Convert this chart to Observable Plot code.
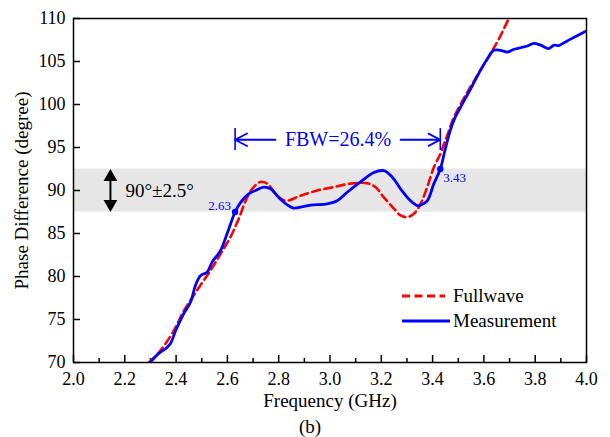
<!DOCTYPE html>
<html>
<head>
<meta charset="utf-8">
<script src="https://cdn.jsdelivr.net/npm/d3@7"></script>
<script src="https://cdn.jsdelivr.net/npm/@observablehq/plot@0.6"></script>
<style>
  html, body { margin: 0; padding: 0; background: #fff; }
  #chart { position: relative; width: 610px; height: 437px; }
  #legend { position: absolute; left: 398px; top: 282px; }
  svg { font-family: "Liberation Serif", "Times New Roman", serif; }
</style>
</head>
<body>
<div id="chart"></div>
<script>
// Measured phase difference (degrees) against frequency (GHz)
const measFreq = [2.300, 2.320, 2.339, 2.359, 2.378, 2.398, 2.415, 2.430, 2.456, 2.476, 2.495, 2.521, 2.541, 2.573, 2.599, 2.630, 2.651, 2.683, 2.710, 2.742, 2.768, 2.794, 2.807, 2.835, 2.859, 2.890, 2.924, 2.989, 3.028, 3.067, 3.119, 3.171, 3.210, 3.243, 3.275, 3.314, 3.340, 3.353, 3.379, 3.405, 3.430, 3.450, 3.469, 3.485, 3.502, 3.548, 3.587, 3.613, 3.639, 3.665, 3.691, 3.715, 3.743, 3.770, 3.795, 3.821, 3.853, 3.873, 3.892, 3.905, 3.938, 3.964, 3.996, 4.000];
const measPhase = [70.0, 70.7, 71.2, 71.6, 72.2, 73.7, 74.8, 75.7, 77.0, 79.0, 80.1, 80.5, 81.7, 83.0, 85.0, 87.5, 88.6, 89.6, 90.0, 90.4, 90.2, 89.4, 89.0, 88.3, 87.95, 88.1, 88.3, 88.45, 88.8, 89.8, 91.0, 92.1, 92.3, 91.55, 90.2, 88.8, 88.25, 88.3, 88.8, 90.8, 92.5, 94.9, 97.0, 98.3, 99.3, 101.8, 104.0, 105.3, 106.3, 106.3, 106.1, 106.4, 106.6, 106.8, 107.1, 106.9, 106.5, 106.9, 106.85, 107.05, 107.6, 108.0, 108.5, 108.55];

// Full-wave simulation
const simFreq = [2.294, 2.339, 2.391, 2.430, 2.482, 2.534, 2.573, 2.612, 2.644, 2.671, 2.697, 2.729, 2.755, 2.794, 2.827, 2.885, 2.950, 3.015, 3.080, 3.145, 3.177, 3.210, 3.249, 3.275, 3.300, 3.327, 3.353, 3.379, 3.405, 3.431, 3.444, 3.457, 3.483, 3.535, 3.587, 3.626, 3.658, 3.697];
const simPhase = [70.0, 71.4, 73.7, 76.0, 78.4, 80.7, 82.6, 84.6, 86.7, 88.8, 90.2, 91.0, 90.8, 89.4, 88.8, 89.4, 90.0, 90.4, 90.8, 90.85, 90.4, 89.2, 87.9, 87.1, 86.9, 87.3, 88.45, 90.4, 92.7, 94.3, 95.4, 96.4, 98.5, 101.4, 104.0, 105.9, 107.6, 110.0];

// Target band 90° ± 2.5° and the band-edge frequencies
const bandCenter = 90;
const bandHalf = 2.5;
const edgeFreq = [2.63, 3.43];
const edgePhase = [87.5, 92.5];

// Axes
const xDomain = [2.0, 4.0];
const yDomain = [70, 110];
const xMajor = d3.range(0, 11).map(i => +(2.0 + i * 0.2).toFixed(1));
const xMinor = d3.range(0, 10).map(i => +(2.1 + i * 0.2).toFixed(1));
const yMajor = d3.range(70, 111, 5);

const measurement = measFreq.map((f, i) => ({f, p: measPhase[i]}));
const fullwave = simFreq.map((f, i) => ({f, p: simPhase[i]}));
const edges = edgeFreq.map((f, i) => ({f, p: edgePhase[i]}));

const fbw = 2 * (edgeFreq[1] - edgeFreq[0]) / (edgeFreq[1] + edgeFreq[0]);
const fbwLabel = `FBW=${(fbw * 100).toFixed(1)}%`;

const BLUE = "#0000ff";
const RED = "#ff0000";

const W = 610, H = 437;
const mL = 73, mR = 24, mT = 18, mB = 75;
const innerW = W - mL - mR, innerH = H - mT - mB;

const arrowX = 2.144;      // position of the ±2.5° double arrow
const fbwY = 95.9;         // height of the FBW dimension line
const fbwBar = [94.65, 97.2];
const fbwGap = [2.7875, 3.275];

const chart = Plot.plot({
  width: W,
  height: H,
  marginLeft: mL,
  marginRight: mR,
  marginTop: mT,
  marginBottom: mB,
  style: {fontFamily: "'Liberation Serif', 'Times New Roman', serif", fontSize: "18px", background: "white", color: "black"},
  x: {domain: xDomain, label: null},
  y: {domain: yDomain, label: null},
  marks: [
    // ±2.5° band
    Plot.rect([{y1: bandCenter - bandHalf, y2: bandCenter + bandHalf}], {x1: xDomain[0], x2: xDomain[1], y1: "y1", y2: "y2", fill: "#e6e6e6"}),

    // tick labels (ticks themselves are drawn inward below)
    Plot.axisX({ticks: xMajor, tickSize: 0, tickPadding: 10, tickFormat: d => d.toFixed(1), fontSize: 18, label: null}),
    Plot.axisY({ticks: yMajor, tickSize: 0, tickPadding: 8, tickFormat: d => String(d), fontSize: 18, label: null}),
    Plot.tickX(xMajor, {x: d => d, insetTop: innerH - 7, stroke: "black", strokeWidth: 1.5}),
    Plot.tickX(xMinor, {x: d => d, insetTop: innerH - 4, stroke: "black", strokeWidth: 1.5}),
    Plot.tickY(yMajor, {y: d => d, insetRight: innerW - 7, stroke: "black", strokeWidth: 1.5}),

    // curves
    Plot.line(fullwave, {x: "f", y: "p", stroke: RED, strokeWidth: 2.6, strokeDasharray: "8,4.5", curve: "catmull-rom", clip: true}),
    Plot.line(measurement, {x: "f", y: "p", stroke: BLUE, strokeWidth: 2.8, curve: "catmull-rom", clip: true}),

    // band-edge markers and their labels
    Plot.dot(edges, {x: "f", y: "p", r: 3.2, fill: BLUE}),
    Plot.text(edges.slice(0, 1), {x: "f", y: "p", text: d => d.f.toFixed(2), textAnchor: "end", lineAnchor: "bottom", dx: -4, dy: -2, fill: BLUE, fontSize: 13}),
    Plot.text(edges.slice(1), {x: "f", y: "p", text: d => d.f.toFixed(2), textAnchor: "start", lineAnchor: "bottom", dx: 3, dy: 13, fill: BLUE, fontSize: 13}),

    // ±2.5° double arrow
    Plot.ruleX([arrowX], {y1: bandCenter - bandHalf + 1, y2: bandCenter + bandHalf - 1, stroke: "black", strokeWidth: 2}),
    Plot.dot([arrowX], {x: d => d, y: bandCenter + bandHalf, symbol: "triangle", r: 5.1, fill: "black", stroke: null, dy: 8}),
    Plot.dot([arrowX], {x: d => d, y: bandCenter - bandHalf, symbol: "triangle", rotate: 180, r: 5.1, fill: "black", stroke: null, dy: -8}),
    Plot.text([`${bandCenter}°±${bandHalf}°`], {x: arrowX, y: bandCenter, dx: 15, textAnchor: "start", lineAnchor: "middle", fontSize: 19, fill: "black"}),

    // FBW dimension
    Plot.ruleX(edgeFreq, {x: d => d, y1: fbwBar[0], y2: fbwBar[1], stroke: BLUE, strokeWidth: 1.6}),
    Plot.arrow([{x1: fbwGap[0], x2: edgeFreq[0]}, {x1: fbwGap[1], x2: edgeFreq[1]}], {x1: "x1", x2: "x2", y1: fbwY, y2: fbwY, stroke: BLUE, strokeWidth: 1.8, headLength: 12, headAngle: 55}),
    Plot.text([fbwLabel], {x: (fbwGap[0] + fbwGap[1]) / 2, y: fbwY, lineAnchor: "middle", fontSize: 20, fill: BLUE}),

    // frame
    Plot.frame({stroke: "black", strokeWidth: 1.5}),

    // axis titles and panel tag
    Plot.text(["Frequency (GHz)"], {frameAnchor: "bottom", textAnchor: "middle", lineAnchor: "bottom", dy: 44, fontSize: 19, fill: "black"}),
    Plot.text(["Phase Difference (degree)"], {frameAnchor: "left", textAnchor: "middle", lineAnchor: "bottom", rotate: -90, dx: -46, fontSize: 19, fill: "black"}),
    Plot.text(["(b)"], {frameAnchor: "bottom", textAnchor: "middle", lineAnchor: "bottom", dy: 70, dx: -20, fontSize: 19, fill: "black"})
  ]
});

const holder = document.getElementById("chart");
holder.appendChild(chart);

// legend
const legend = d3.create("svg")
  .attr("id", "legend")
  .attr("width", 190)
  .attr("height", 56)
  .style("font-family", "'Liberation Serif', 'Times New Roman', serif");
const rows = [
  {name: "Fullwave", color: RED, dash: "8,4.5", x2: 47},
  {name: "Measurement", color: BLUE, dash: null, x2: 52}
];
rows.forEach((r, i) => {
  const cy = 14 + i * 25;
  legend.append("line")
    .attr("x1", 4).attr("x2", r.x2).attr("y1", cy).attr("y2", cy)
    .attr("stroke", r.color).attr("stroke-width", 3)
    .attr("stroke-dasharray", r.dash);
  legend.append("text")
    .attr("x", 55).attr("y", cy + 6)
    .attr("font-size", 19).attr("fill", "black")
    .text(r.name);
});
holder.appendChild(legend.node());
</script>
</body>
</html>
